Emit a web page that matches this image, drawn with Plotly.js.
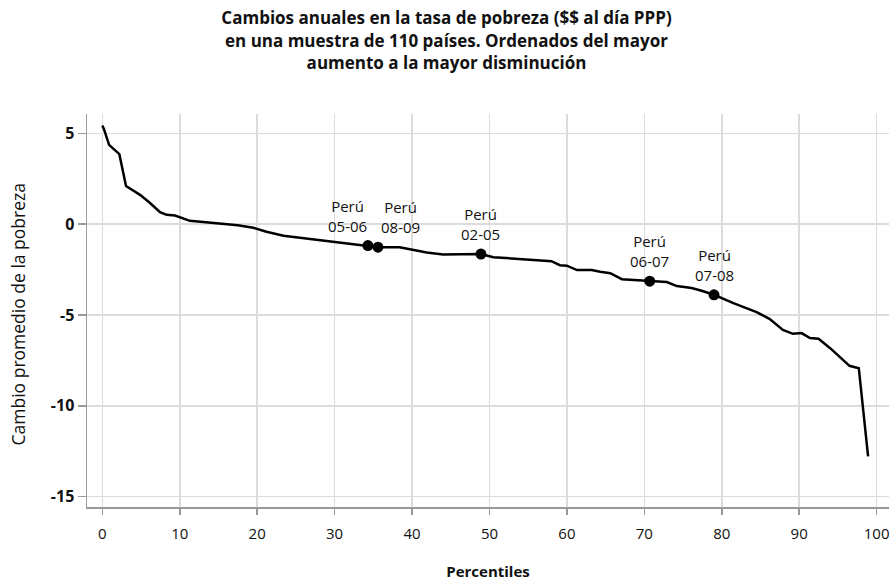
<!DOCTYPE html>
<html>
<head>
<meta charset="utf-8">
<script src="https://cdn.plot.ly/plotly-3.0.1.min.js"></script>
<style>html,body{margin:0;padding:0;background:#fff;}#chart{width:893px;height:581px;}</style>
</head>
<body>
<div id="chart"></div>
<script>
// Ordered curve: percentile vs average change in poverty rate
const percentiles = [0, 0.2, 0.87, 2.2, 3.06, 4.87, 6.16, 7.45, 8.3, 9.4, 11.3, 13.0, 15.4, 17.5, 19.5, 21.2, 23.4, 25.1, 29.8, 32.4, 34.3, 35.6, 38.4, 39.7, 41.9, 44.0, 48.9, 50.5, 53.5, 58.0, 59.1, 60.0, 61.3, 63.2, 64.3, 65.6, 67.1, 68.6, 70.7, 72.9, 74.2, 76.1, 77.4, 79.0, 81.5, 84.5, 86.2, 87.9, 89.2, 90.3, 91.4, 92.5, 94.0, 95.3, 96.5, 97.7, 98.9];
const changes = [5.43, 5.24, 4.36, 3.85, 2.1, 1.61, 1.16, 0.66, 0.51, 0.47, 0.18, 0.11, 0.04, -0.06, -0.2, -0.42, -0.64, -0.73, -0.95, -1.1, -1.18, -1.27, -1.27, -1.38, -1.56, -1.67, -1.65, -1.82, -1.91, -2.04, -2.26, -2.29, -2.53, -2.53, -2.62, -2.70, -3.03, -3.08, -3.14, -3.19, -3.41, -3.52, -3.67, -3.89, -4.35, -4.84, -5.23, -5.82, -6.04, -6.0, -6.27, -6.31, -6.83, -7.32, -7.8, -7.93, -12.79];

// Highlighted Peru periods
const peruX = [34.3, 35.6, 48.9, 70.7, 79.0];
const peruY = [-1.18, -1.27, -1.65, -3.14, -3.89];
const peruPeriods = ["05-06", "08-09", "02-05", "06-07", "07-08"];
const peruName = "Perú";
const peruLabelShift = [-20, 23, 0, 0, 0];

const xTicks = [0, 10, 20, 30, 40, 50, 60, 70, 80, 90, 100];
const yTicks = [5, 0, -5, -10, -15];

const FONT = "Open Sans, Noto Sans, sans-serif";

const traces = [
  {x: percentiles, y: changes, type: "scatter", mode: "lines",
   line: {color: "#000", width: 2.5}, hoverinfo: "skip"},
  {x: peruX, y: peruY, type: "scatter", mode: "markers",
   marker: {color: "#000", size: 11}, hoverinfo: "skip"}
];

const annotations = peruX.map((px, i) => ({
  x: px, y: peruY[i], xref: "x", yref: "y",
  text: peruName + "<br>" + peruPeriods[i],
  showarrow: false, yanchor: "middle", xanchor: "center",
  xshift: peruLabelShift[i], yshift: 30,
  font: {family: FONT, size: 15, color: "#111"}
}));

// y-axis title (placed as annotation to match the reference's distance from the axis)
annotations.push({
  text: "Cambio promedio de la pobreza", xref: "paper", yref: "paper",
  x: -0.086, y: 0.49, xanchor: "center", yanchor: "middle", textangle: -90,
  showarrow: false, font: {family: FONT, size: 17.5, color: "#111"}
});

const layout = {
  width: 893, height: 581,
  paper_bgcolor: "#fff", plot_bgcolor: "#fff",
  margin: {l: 87, r: 4, t: 114, b: 74},
  showlegend: false,
  font: {family: FONT, color: "#111"},
  title: {
    text: "<b>Cambios anuales en la tasa de pobreza ($$ al día PPP)<br>en una muestra de 110 países. Ordenados del mayor<br>aumento a la mayor disminución</b>",
    font: {family: FONT, size: 17, color: "#111"},
    x: 0.5, xanchor: "center", xref: "container", y: 0.958, yanchor: "top", yref: "container"
  },
  xaxis: {
    range: [-1.98, 101.6], tickvals: xTicks, ticktext: xTicks.map(String),
    showgrid: true, gridcolor: "#dcdcdc", gridwidth: 1.5, zeroline: false,
    showline: true, linecolor: "#999", linewidth: 1.5,
    ticks: "outside", ticklen: 6, tickcolor: "#999", tickwidth: 1.5,
    ticklabelstandoff: 6,
    tickfont: {family: FONT, size: 15, color: "#111"},
    title: {text: "<b>Percentiles</b>", font: {family: FONT, size: 15, color: "#111"}, standoff: 26}
  },
  yaxis: {
    range: [-15.57, 6.06], tickvals: yTicks, ticktext: yTicks.map(v => "<b>" + v + "</b>"),
    showgrid: true, gridcolor: "#dcdcdc", gridwidth: 1.5, zeroline: false,
    showline: true, linecolor: "#999", linewidth: 1.5,
    ticks: "outside", ticklen: 8, tickcolor: "#999", tickwidth: 1.5,
    tickfont: {family: FONT, size: 16, color: "#111"}
  },
  annotations: annotations
};

Plotly.newPlot("chart", traces, layout, {displayModeBar: false, staticPlot: true});
</script>
</body>
</html>
